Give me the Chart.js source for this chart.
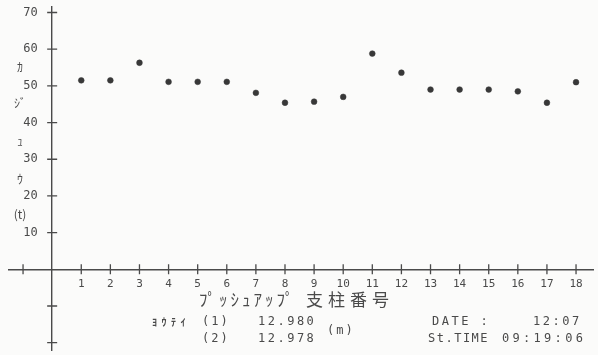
<!DOCTYPE html>
<html>
<head>
<meta charset="utf-8">
<script src="https://cdn.jsdelivr.net/npm/chart.js@4.4.1/dist/chart.umd.min.js"></script>
<style>
  html, body { margin: 0; padding: 0; background: #fbfbfa; }
  #wrap { position: relative; width: 598px; height: 355px; }
</style>
</head>
<body>
<div id="wrap"><canvas id="loadChart"></canvas></div>
<script>
// Push-up stanchion load plot (old plotter printout look).
"use strict";

// ----- data ---------------------------------------------------------------- //
const STANCHION_NO = [1, 2, 3, 4, 5, 6, 7, 8, 9, 10, 11, 12, 13, 14, 15, 16, 17, 18];
const LOAD_T = [51.5, 51.5, 56.3, 51.1, 51.1, 51.1, 48.1, 45.4, 45.7, 47.0,
                58.8, 53.6, 49.0, 49.0, 49.0, 48.5, 45.4, 51.0];

const X_TICKS = [-1, 0, 1, 2, 3, 4, 5, 6, 7, 8, 9, 10, 11, 12, 13, 14, 15, 16, 17, 18];
const Y_TICKS = [-20, -10, 0, 10, 20, 30, 40, 50, 60, 70];

const X_TITLE_KANA = "ﾌﾟｯｼｭｱｯﾌﾟ";
const X_TITLE_KANJI = "支柱番号";
const Y_TITLE = ["ｶ", "ｼﾞ", "ｭ", "ｳ", "(t)"];

const INK = "#4a4a4a";
const MONO = "'DejaVu Sans Mono', monospace";
const CJK = "'Noto Sans CJK JP', sans-serif";

// ----- helpers ------------------------------------------------------------- //
function spacedText(ctx, text, x, y, spacing) {
  ctx.save();
  ctx.letterSpacing = spacing + "px";
  ctx.fillText(text, x, y);
  ctx.restore();
}

// axes sit at the zero lines, so don't let their labels eat into the layout
function noPadding(scale) {
  scale.paddingTop = scale.paddingBottom = 0;
  scale.paddingLeft = scale.paddingRight = 0;
}

// tick marks that cross the axis lines, like the plotter draws them
const crossTicks = {
  id: "crossTicks",
  afterDatasetsDraw(chart) {
    const { ctx, scales: { x, y } } = chart;
    const x0 = x.getPixelForValue(0);
    const y0 = y.getPixelForValue(0);
    ctx.save();
    ctx.strokeStyle = INK;
    ctx.lineWidth = 1.3;
    ctx.beginPath();
    X_TICKS.filter(v => v !== 0).forEach(v => {
      const px = x.getPixelForValue(v);
      ctx.moveTo(px, y0 - 5);
      ctx.lineTo(px, y0 + 5);
    });
    Y_TICKS.filter(v => v !== 0).forEach(v => {
      const py = y.getPixelForValue(v);
      ctx.moveTo(x0 - 5, py);
      ctx.lineTo(x0 + 5, py);
    });
    ctx.stroke();
    ctx.restore();
  },
};

// titles and the footer block printed under the plot
const printout = {
  id: "printout",
  afterDraw(chart) {
    const { ctx } = chart;
    ctx.save();
    ctx.fillStyle = INK;
    ctx.textBaseline = "middle";

    // vertical y title
    ctx.font = "12px " + CJK;
    ctx.textAlign = "center";
    const ys = [67, 103, 141, 179, 214];
    Y_TITLE.forEach((t, i) => ctx.fillText(t, 20, ys[i]));

    // x title
    ctx.textAlign = "left";
    ctx.font = "17px " + CJK;
    spacedText(ctx, X_TITLE_KANA, 199, 300, 3);
    spacedText(ctx, X_TITLE_KANJI, 306, 300, 5);

    // footer
    ctx.font = "bold 10px " + CJK;
    spacedText(ctx, "ﾖｳﾃｲ", 152, 322, 4.5);
    ctx.font = "12px " + MONO;
    spacedText(ctx, "(1)", 202, 322, 2);
    spacedText(ctx, "(2)", 202, 339, 2);
    spacedText(ctx, "12.980", 258, 322, 2.5);
    spacedText(ctx, "12.978", 258, 339, 2.5);
    spacedText(ctx, "(m)", 327, 331, 2);
    spacedText(ctx, "DATE :", 432, 322, 2.5);
    spacedText(ctx, "12:07", 533, 322, 2.5);
    spacedText(ctx, "St.TIME", 428, 339, 1.5);
    spacedText(ctx, "09:19:06", 502, 339, 3.3);
    ctx.restore();
  },
};

// ----- chart --------------------------------------------------------------- //
new Chart(document.getElementById("loadChart"), {
  type: "scatter",
  data: {
    datasets: [{
      data: STANCHION_NO.map((n, i) => ({ x: n, y: LOAD_T[i] })),
      pointStyle: "circle",
      pointRadius: 2.9,
      backgroundColor: "#383838",
      borderColor: "#383838",
      borderWidth: 0.5,
    }],
  },
  options: {
    responsive: true,
    maintainAspectRatio: false,
    animation: false,
    layout: { padding: { left: 8.5, right: 0, top: 7, bottom: 5 } },
    plugins: { legend: { display: false }, tooltip: { enabled: false } },
    scales: {
      x: {
        type: "linear",
        position: { y: 0 },
        min: -1.5,
        max: 18.6,
        afterBuildTicks: s => { s.ticks = X_TICKS.map(v => ({ value: v })); },
        afterFit: noPadding,
        grid: { display: false, drawTicks: false },
        border: { display: true, color: INK, width: 1.4 },
        ticks: {
          autoSkip: false,
          maxRotation: 0,
          padding: 8,
          color: INK,
          font: { family: MONO, size: 11 },
          callback: v => (v >= 1 ? String(v) : ""),
        },
      },
      y: {
        type: "linear",
        position: { x: 0 },
        min: -22,
        max: 71.5,
        afterBuildTicks: s => { s.ticks = Y_TICKS.map(v => ({ value: v })); },
        afterFit: noPadding,
        grid: { display: false, drawTicks: false },
        border: { display: true, color: INK, width: 1.4 },
        ticks: {
          padding: 0,
          color: INK,
          font: { family: MONO, size: 12 },
          // label is right-aligned on the axis line; trailing spaces keep it clear of the ticks
          callback: v => (v > 0 ? String(v) + "  " : ""),
        },
      },
    },
  },
  plugins: [crossTicks, printout],
});
</script>
</body>
</html>
